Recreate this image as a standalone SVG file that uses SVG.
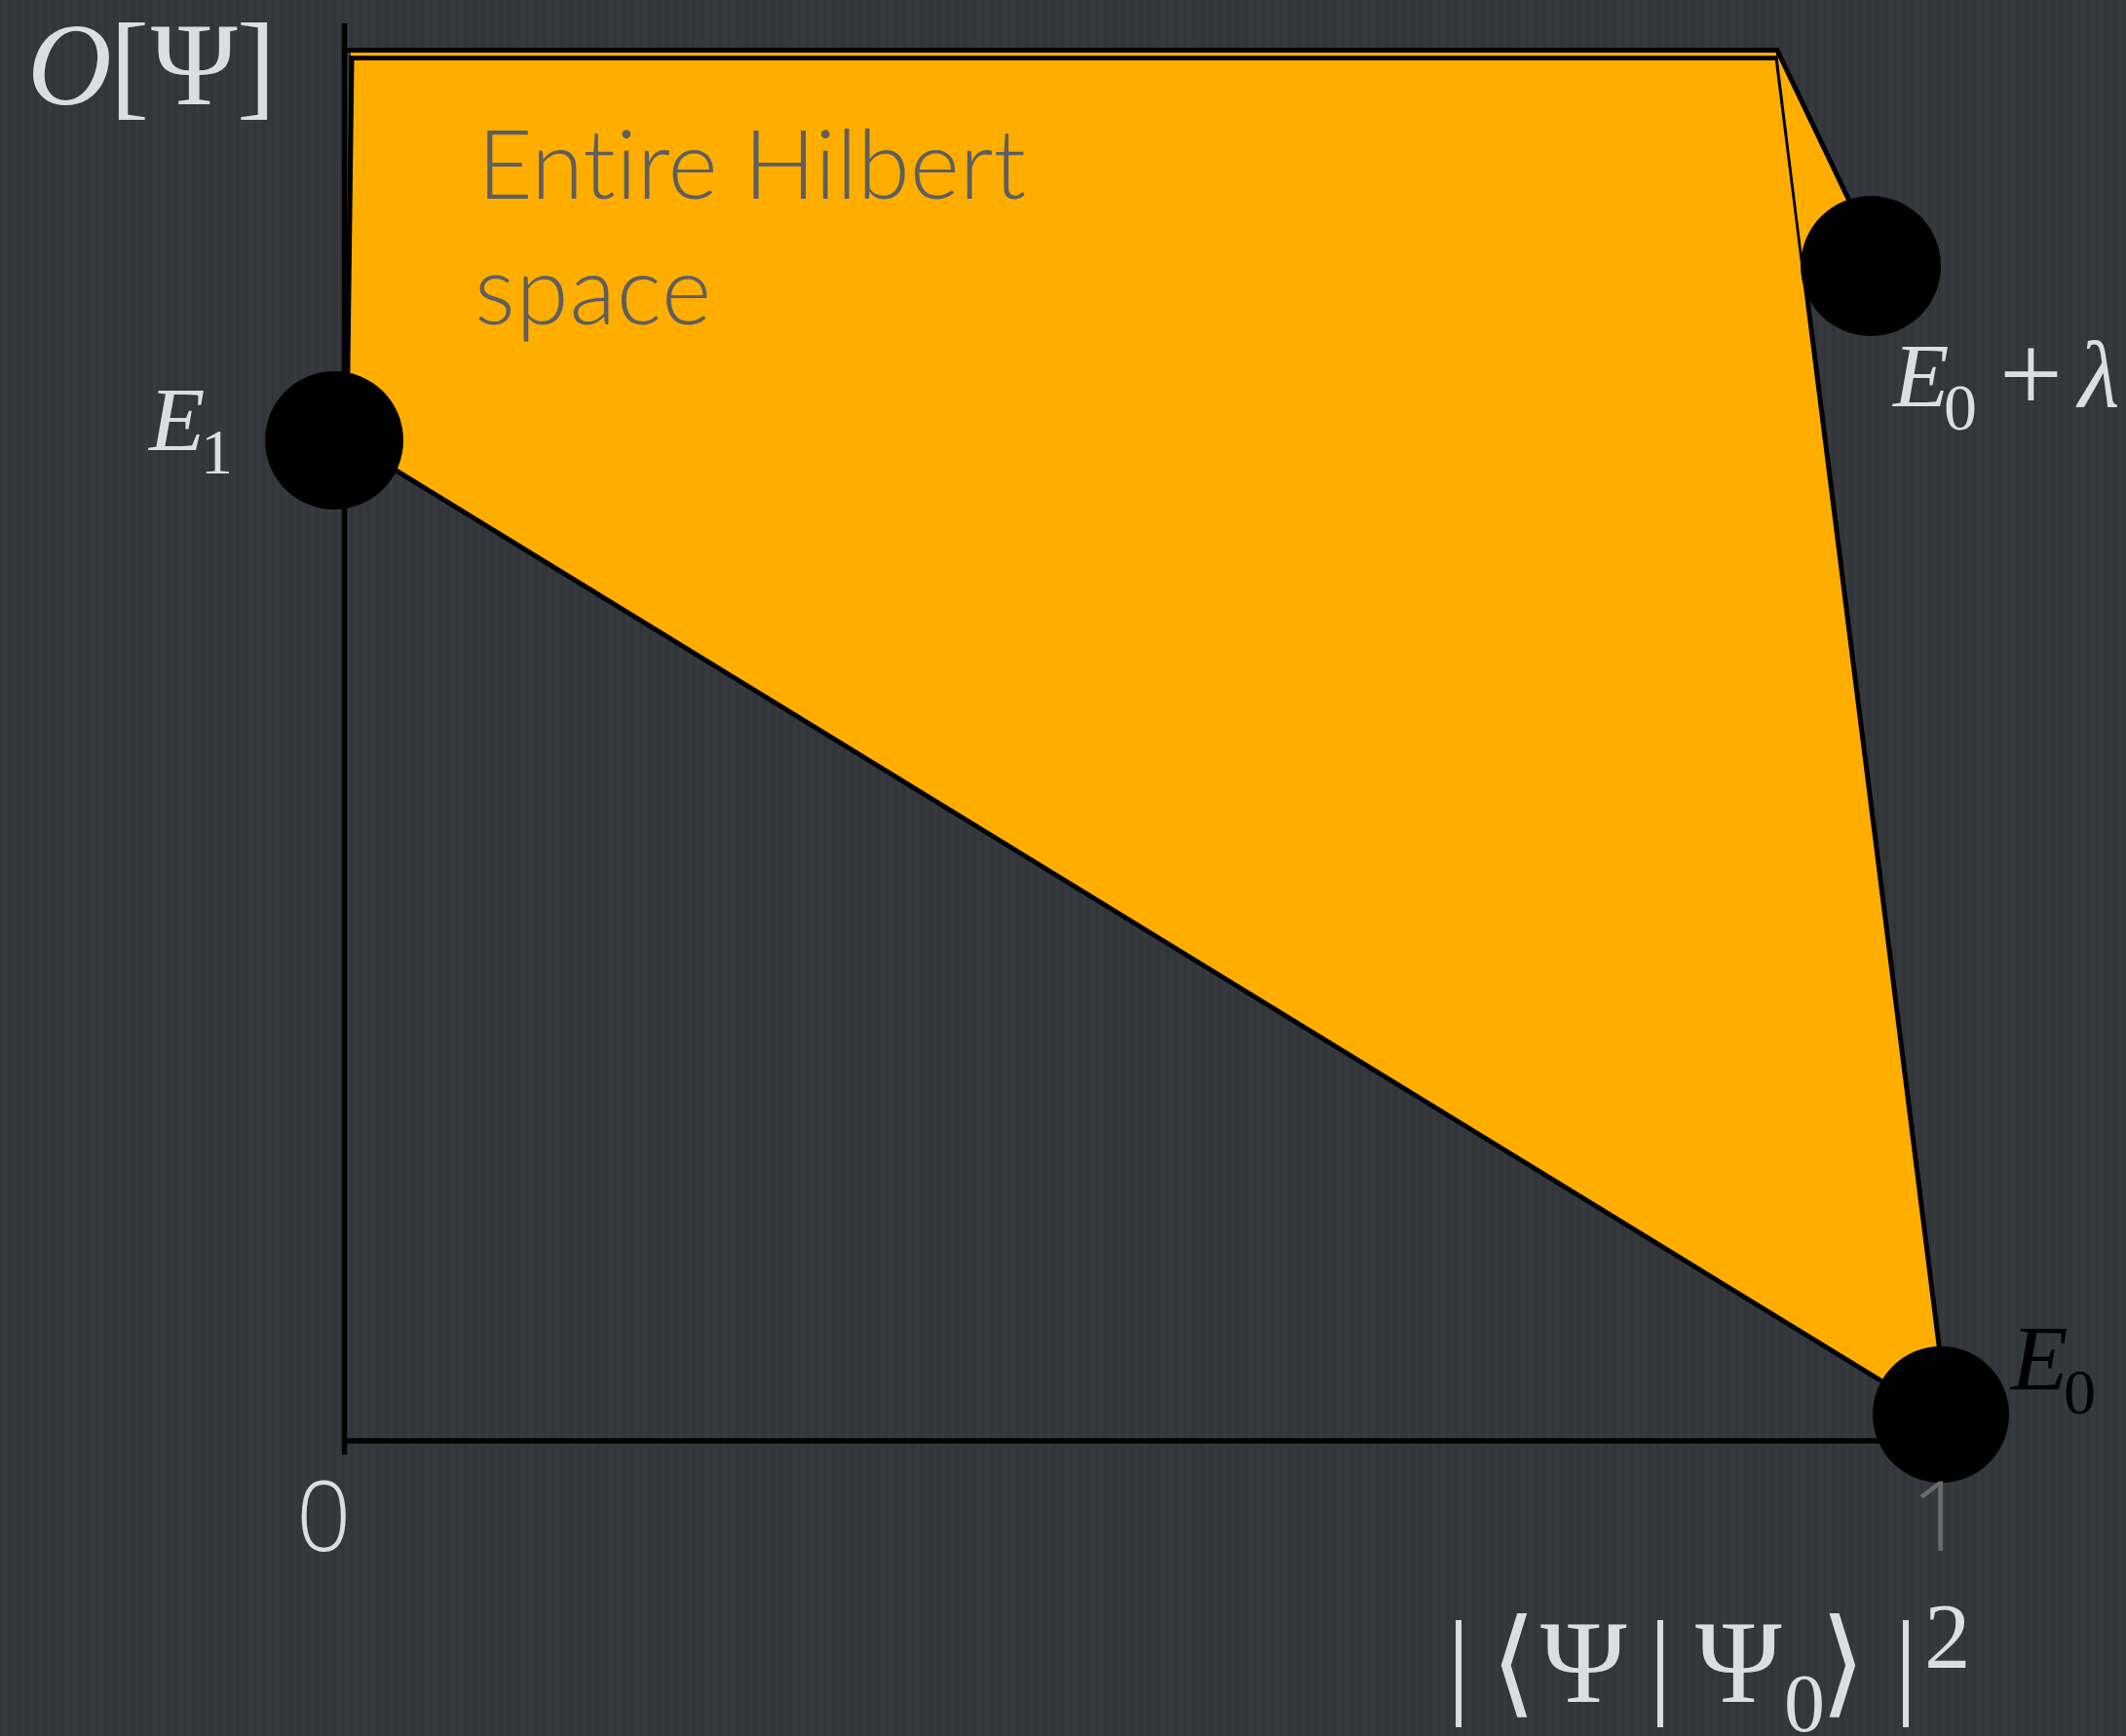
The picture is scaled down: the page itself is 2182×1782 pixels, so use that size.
<svg xmlns="http://www.w3.org/2000/svg" width="2182" height="1782" viewBox="0 0 2182 1782">
<defs>
<style>
.bg{fill:#34383c}
.region{fill:#ffae00;stroke:#000;stroke-width:5;stroke-linejoin:miter}
.edge{fill:none;stroke:#000;stroke-width:5}
.axis{fill:none;stroke:#000;stroke-width:5.5}
.dot{fill:#000}
.math{font-family:"Liberation Serif","Times New Roman",serif;fill:#dcdde0}
.it{font-style:italic}
.mathdark{font-family:"Liberation Serif","Times New Roman",serif;fill:#000}
.tick{font-family:"Open Sans","Lato",sans-serif;font-weight:300;font-size:99px}
.label{font-family:"Lato","Open Sans",sans-serif;font-weight:300;font-size:98px;fill:#5e5e5e;font-variant-ligatures:none}
</style>
<pattern id="grain" x="0" y="0" width="9" height="40" patternUnits="userSpaceOnUse">
<rect x="0" y="0" width="2" height="40" fill="#000" fill-opacity="0.05"/>
<rect x="5" y="0" width="1" height="40" fill="#fff" fill-opacity="0.02"/>
</pattern>
</defs>
<rect class="bg" x="0" y="0" width="2182" height="1782"/>
<rect x="0" y="0" width="2182" height="1782" fill="url(#grain)"/>

<g id="hilbert-region">
<polygon class="region" points="361,59.5 1824,59.5 2000,1460 356,452"/>
<line x1="360" y1="55.5" x2="1823" y2="55.5" stroke="#ffae00" stroke-width="3.5"/>
<polygon points="1824,54 1930,273 1851,273" fill="#ffae00"/>
</g>

<g id="connectors">
<polyline class="edge" points="351,51.5 1824,51.5 1930,273"/>
<line class="axis" x1="353.5" y1="24" x2="353.5" y2="1493"/>
<line class="axis" x1="351" y1="1479" x2="1992" y2="1479"/>
</g>

<g id="node-E1">
<circle class="dot" cx="343" cy="452" r="71"/>
<text class="math it" x="153" y="462" font-size="94">E</text>
<text class="math" x="206" y="486" font-size="66">1</text>
</g>

<g id="node-E0-lambda">
<circle class="dot" cx="1920" cy="273" r="72"/>
<text class="math it" x="1943" y="417" font-size="94">E</text>
<text class="math" x="1995" y="441" font-size="68">0</text>
<text class="math" x="2052" y="422" font-size="115">+</text>
<text class="math it" x="2133" y="417" font-size="98">λ</text>
</g>

<g id="node-E0">
<circle class="dot" cx="1992" cy="1452" r="70"/>
<text class="mathdark it" x="2064" y="1427" font-size="96">E</text>
<text class="mathdark" x="2118" y="1451" font-size="66">0</text>
</g>

<g id="y-label">
<text class="math" y="107" font-size="120"><tspan class="it" x="28">O</tspan><tspan x="113">[</tspan><tspan x="155">Ψ</tspan><tspan x="243">]</tspan></text>
</g>

<g id="x-label">
<text class="math" y="1747" font-size="120"><tspan x="1485">|</tspan><tspan x="1530">⟨</tspan><tspan x="1581">Ψ</tspan><tspan x="1692">|</tspan><tspan x="1740">Ψ</tspan><tspan x="1868">⟩</tspan><tspan x="1944">|</tspan></text>
<text class="math" x="1831" y="1777" font-size="84">0</text>
<text class="math" x="1975" y="1712" font-size="95">2</text>
</g>

<g id="ticks">
<text class="tick" x="304" y="1592" fill="#dcdde0">0</text>
<text class="tick" x="1961" y="1592" fill="#6a6a6a">1</text>
</g>

<g id="region-label">
<text class="label" x="490" y="204" textLength="563">Entire Hilbert</text>
<text class="label" x="487" y="333" textLength="243">space</text>
</g>
</svg>
